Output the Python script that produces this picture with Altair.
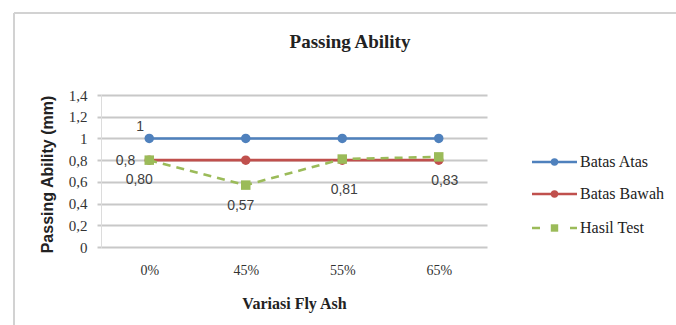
import altair as alt
import pandas as pd

# Chart values
categories = ["0%", "45%", "55%", "65%"]
series_names = ["Batas Atas", "Batas Bawah", "Hasil Test"]
batas_atas = [1.0, 1.0, 1.0, 1.0]
batas_bawah = [0.8, 0.8, 0.8, 0.8]
hasil_test = [0.80, 0.57, 0.81, 0.83]
y_ticks = [0, 0.2, 0.4, 0.6, 0.8, 1.0, 1.2, 1.4]
series_colors = ["#4F81BD", "#C0504D", "#9BBB59"]
series_shapes = ["circle", "circle", "square"]

rows = []
for name, vals in zip(series_names, [batas_atas, batas_bawah, hasil_test]):
    for i, (cat, val) in enumerate(zip(categories, vals)):
        rows.append({"fly": cat, "series": name, "value": val, "idx": i})
df = pd.DataFrame(rows)

W, H = 386, 152
SERIF = "'Liberation Serif', 'Times New Roman', 'DejaVu Serif', serif"
SANS = "'Liberation Sans', Arial, sans-serif"

x_enc = alt.X(
    "fly:N",
    sort=categories,
    scale=alt.Scale(type="point", domain=categories, padding=0.5),
    axis=alt.Axis(
        title="Variasi Fly Ash",
        titleX=W / 2, titleY=56, titleAlign="center", titleBaseline="middle",
        labelPadding=16, ticks=False, domain=False, grid=False,
        labelAngle=0,
    ),
)
y_enc = alt.Y(
    "value:Q",
    scale=alt.Scale(domain=[0, 1.4], nice=False, zero=True),
    axis=alt.Axis(
        title="Passing Ability (mm)",
        titleAngle=-90,
        titleX=-54, titleY=79, titleAlign="center", titleBaseline="middle",
        values=y_ticks,
        labelExpr="replace(format(datum.value, '~g'), '.', ',')",
        labelPadding=10, tickSize=4,
        domain=True, grid=True,
    ),
)

base = alt.Chart(df).encode(x=x_enc, y=y_enc)

lines = base.mark_line(strokeWidth=2.6).encode(
    color=alt.Color("series:N", scale=alt.Scale(domain=series_names, range=series_colors),
                    legend=None),
    strokeDash=alt.condition("datum.series == 'Hasil Test'",
                             alt.value([8, 6]), alt.value([1, 0])),
    detail="series:N",
)

points = base.mark_point(filled=True, size=90, opacity=1).encode(
    color=alt.Color("series:N", scale=alt.Scale(domain=series_names, range=series_colors),
                    legend=None),
    shape=alt.Shape("series:N", scale=alt.Scale(domain=series_names, range=series_shapes),
                    legend=None),
)

label_text = ("datum.series == 'Hasil Test' ? "
              "replace(format(datum.value, '.2f'), '.', ',') : "
              "replace(format(datum.value, '~g'), '.', ',')")


def value_label(series, idx, dx, dy, align="center"):
    return (
        base.transform_filter(f"datum.series == '{series}' && datum.idx == {idx}")
        .transform_calculate(label=label_text)
        .mark_text(font=SANS, fontSize=14, color="#404040", align=align,
                   baseline="middle", dx=dx, dy=dy)
        .encode(text="label:N")
    )


labels = [
    value_label("Batas Atas", 0, -9, -11),
    value_label("Batas Bawah", 0, -14, 1, align="right"),
    value_label("Hasil Test", 0, -10, 20),
    value_label("Hasil Test", 1, -5, 21),
    value_label("Hasil Test", 2, 2, 31),
    value_label("Hasil Test", 3, 6, 24),
]

# Legend entries: line sample, marker and series name, stacked on the right
single = alt.Data(values=[{}])
legend_rows_y = [67, 99, 133]
legend_dash = [[1, 0], [1, 0], [8, 30]]
legend_layers = []
for name, color, shape, ly, dash in zip(series_names, series_colors, series_shapes,
                                        legend_rows_y, legend_dash):
    legend_layers.append(
        alt.Chart(single).mark_rule(color=color, strokeWidth=2.5, strokeDash=dash)
        .encode(x=alt.value(431), x2=alt.value(476), y=alt.value(ly))
    )
    legend_layers.append(
        alt.Chart(single).mark_point(filled=True, size=55, color=color, shape=shape,
                                     opacity=1)
        .encode(x=alt.value(453.5), y=alt.value(ly))
    )
    legend_layers.append(
        alt.Chart(single).mark_text(text=name, font=SERIF, fontSize=16,
                                    color="#222222", align="left", baseline="middle")
        .encode(x=alt.value(479), y=alt.value(ly))
    )

# Light outer frame of the chart area (top and left edges) and the heading
frame_top = alt.Chart(single).mark_rule(color="#d2d2d2", strokeWidth=2).encode(
    x=alt.value(-87), x2=alt.value(W + 189), y=alt.value(-82))
frame_left = alt.Chart(single).mark_rule(color="#d2d2d2", strokeWidth=2).encode(
    x=alt.value(-87), y=alt.value(-82), y2=alt.value(H + 78))
heading = alt.Chart(single).mark_text(
    text="Passing Ability", font=SERIF, fontSize=19, fontWeight="bold",
    color="#222222", align="center", baseline="middle",
).encode(x=alt.value(249), y=alt.value(-53))

chart = (
    alt.layer(lines, points, *labels, *legend_layers, frame_top, frame_left, heading)
    .properties(
        width=W,
        height=H,
        autosize=alt.AutoSizeParams(type="none"),
        padding={"left": 101, "top": 95, "right": 189, "bottom": 78},
        background="white",
    )
    .configure_view(stroke=None)
    .configure_axisX(
        titleFont=SERIF, titleFontSize=16, titleFontWeight="bold",
        titleColor="#222222",
        labelFont=SERIF, labelFontSize=14, labelColor="#333333",
    )
    .configure_axisY(
        titleFont=SANS, titleFontSize=16, titleFontWeight="bold",
        titleColor="#222222",
        labelFont=SERIF, labelFontSize=15, labelColor="#333333",
        tickColor="#c8c8c8", tickWidth=2,
        domainColor="#dcdcdc", domainWidth=1,
        gridColor="#c8c8c8", gridWidth=2,
    )
)

chart.save("out.html", embed_options={"renderer": "svg", "actions": False})
